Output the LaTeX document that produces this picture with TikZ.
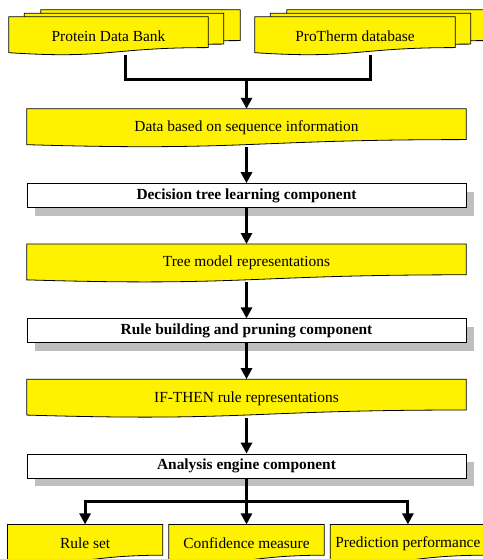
\documentclass[tikz,border=0pt]{standalone}
\usepackage{fontspec}
\setmainfont{Liberation Serif}
\usetikzlibrary{arrows.meta, positioning, calc, shadows, backgrounds}

% outline of a document sheet (wavy bottom), shifted by #2
\newcommand{\docoutline}[2]{($(#1.north west)+(#2)$) -- ($(#1.north east)+(#2)$)
  -- ($(#1.north east)!0.802!(#1.south east)+(#2)$)
  .. controls ($(#1.north)!0.802!(#1.south)+(#2)$) and ($(#1.north)!1.107!(#1.south)+(#2)$)
  .. ($(#1.north west)!0.934!(#1.south west)+(#2)$) -- cycle}

\begin{document}
\begin{tikzpicture}[x=1pt, y=-1pt,
    node distance=36pt,
    doc/.style={rectangle, inner sep=0pt, minimum height=38pt, text centered, font=\fontsize{15.4}{18}\selectfont},
    docfill/.style={draw=black, line width=0.8pt, fill=yellow},
    comp/.style={rectangle, draw=black, line width=0.8pt, fill=white, minimum width=439pt, minimum height=24pt, inner sep=0pt, font=\fontsize{15.4}{18}\selectfont\bfseries, drop shadow={shadow xshift=8pt, shadow yshift=-8pt, fill=black!25, opacity=1}},
    flowline/.style={line width=3pt, draw=black, line join=miter},
    flow/.style={flowline, -{Triangle[width=11pt,length=11pt]}}
  ]
  \useasboundingbox (0,0) rectangle (482,559);

  \node (pdb) [doc, minimum width=199pt] at (108.5,36) {Protein Data Bank};
  \node (protherm) [doc, minimum width=200pt] at (355,36) {ProTherm database};

  \node (seqdata) [doc, minimum width=439pt] at (246.5,128) {Data based on sequence information};
  \node (dtl) [comp, below=of seqdata] {Decision tree learning component};
  \node (treemodel) [doc, minimum width=439pt, below=of dtl] {Tree model representations};
  \node (rbp) [comp, below=of treemodel] {Rule building and pruning component};
  \node (ifthen) [doc, minimum width=439pt, below=of rbp] {IF-THEN rule representations};
  \node (engine) [comp, below=of ifthen] {Analysis engine component};

  \node (confidence) [doc, minimum width=155pt, below=46pt of engine] {Confidence measure};
  \node (ruleset) [doc, minimum width=155pt, left=6pt of confidence] {Rule set};
  \node (prediction) [doc, minimum width=155pt, right=6pt of confidence] {Prediction performance};

  % yellow sheets
  \begin{scope}[on background layer]
    \foreach \n in {pdb, protherm} {
      \path[docfill] \docoutline{\n}{32pt,7pt};
      \path[docfill] \docoutline{\n}{15.5pt,3.5pt};
    }
    \foreach \n in {pdb, protherm, seqdata, treemodel, ifthen, ruleset, confidence, prediction}
      \path[docfill] \docoutline{\n}{0pt,0pt};
  \end{scope}

  \coordinate (merge) at ($(seqdata.north)+(0pt,29pt)$);
  \coordinate (split) at ($(engine.south)+(0pt,-23pt)$);

  \draw[flowline] ([xshift=16.5pt]pdb.south) |- (merge) -| ([xshift=15pt]protherm.south);
  \draw[flow] (merge) -- (seqdata);
  \draw[flow] (seqdata) -- (dtl);
  \draw[flow] (dtl) -- (treemodel);
  \draw[flow] (treemodel) -- (rbp);
  \draw[flow] (rbp) -- (ifthen);
  \draw[flow] (ifthen) -- (engine);
  \draw[flowline] (engine) -- (split);
  \draw[flow] (split) -| (ruleset);
  \draw[flow] (split) -- (confidence);
  \draw[flow] (split) -| (prediction);
\end{tikzpicture}
\end{document}
